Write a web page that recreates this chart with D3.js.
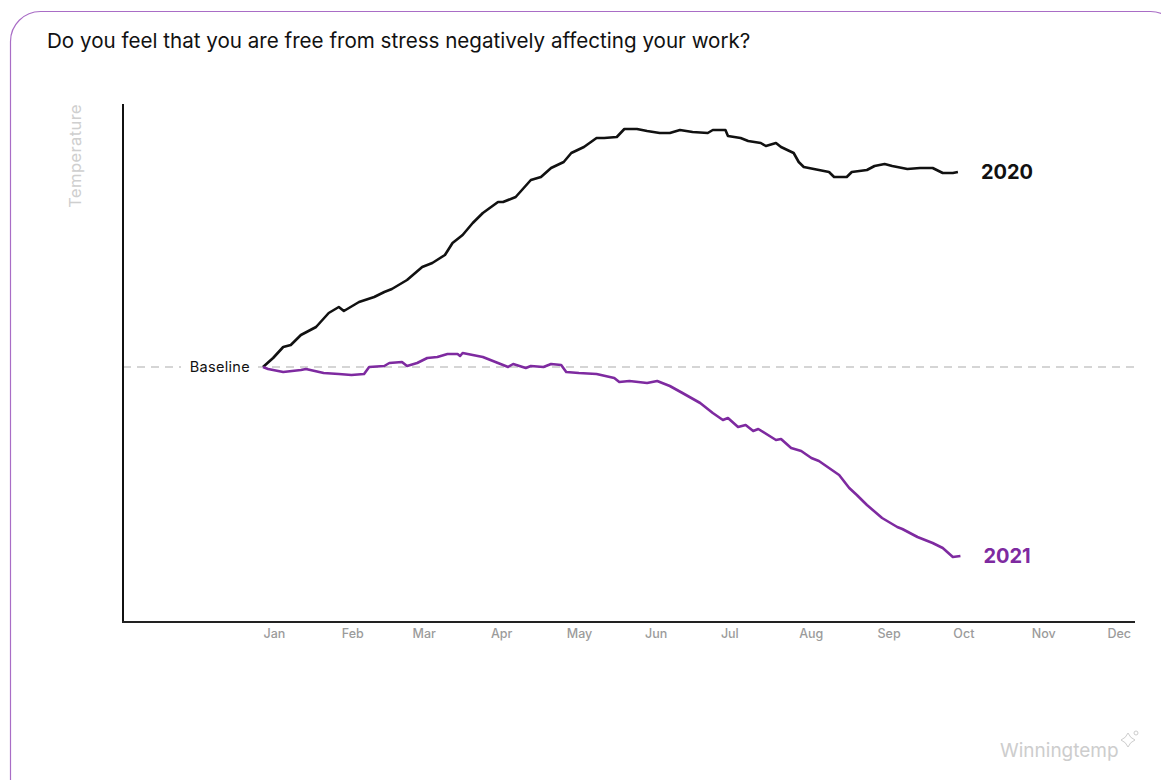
<!DOCTYPE html>
<html>
<head>
<meta charset="utf-8">
<style>
    body { margin: 0; background: #fff; }
    text { font-family: Inter, "Open Sans", sans-serif; }
</style>
</head>
<body>
<svg id="chart" width="1161" height="780"></svg>
<script src="https://cdn.jsdelivr.net/npm/d3@7"></script>
<script>
    // days since Jan 1, temperature relative to baseline
    let days2020 = [0, 4, 8, 11, 15, 21, 26, 30, 32, 38, 44, 48, 51, 57, 63, 67, 72, 75, 79, 83, 87, 93, 95, 100, 106, 110, 114, 119, 122, 127, 132, 135, 140, 143, 148, 152, 157, 161, 165, 170, 176, 178, 183, 184, 189, 192, 197, 199, 203, 205, 210, 212, 214, 216, 224, 226, 231, 233, 239, 242, 246, 249, 255, 260, 265, 269, 273, 275]
    let values2020 = [0, 0.18, 0.40, 0.44, 0.64, 0.80, 1.08, 1.20, 1.12, 1.30, 1.40, 1.50, 1.56, 1.74, 2.00, 2.08, 2.24, 2.48, 2.64, 2.88, 3.08, 3.30, 3.30, 3.40, 3.74, 3.80, 3.98, 4.10, 4.28, 4.40, 4.58, 4.58, 4.60, 4.76, 4.76, 4.72, 4.68, 4.68, 4.74, 4.70, 4.68, 4.74, 4.74, 4.62, 4.58, 4.52, 4.48, 4.42, 4.48, 4.40, 4.28, 4.10, 4.00, 3.98, 3.90, 3.80, 3.80, 3.90, 3.94, 4.02, 4.06, 4.02, 3.96, 3.98, 3.98, 3.88, 3.88, 3.90]

    let days2021 = [0, 2, 8, 15, 17, 24, 30, 35, 40, 42, 48, 50, 55, 57, 61, 65, 69, 73, 77, 78, 79, 87, 93, 97, 99, 104, 106, 111, 114, 118, 120, 125, 132, 139, 141, 145, 152, 156, 161, 166, 173, 178, 182, 184, 188, 191, 194, 196, 203, 205, 209, 213, 217, 220, 228, 232, 235, 239, 245, 251, 253, 259, 265, 269, 273, 276]
    let values2021 = [0, -0.04, -0.10, -0.06, -0.04, -0.12, -0.14, -0.16, -0.14, 0, 0.02, 0.08, 0.10, 0.02, 0.08, 0.18, 0.20, 0.26, 0.26, 0.22, 0.28, 0.20, 0.08, 0, 0.06, -0.02, 0.02, 0, 0.06, 0.04, -0.10, -0.12, -0.14, -0.22, -0.30, -0.28, -0.32, -0.28, -0.38, -0.52, -0.72, -0.92, -1.06, -1.02, -1.20, -1.16, -1.28, -1.24, -1.46, -1.44, -1.62, -1.68, -1.82, -1.88, -2.16, -2.42, -2.56, -2.76, -3.02, -3.20, -3.24, -3.40, -3.52, -3.62, -3.80, -3.78]

    let monthLabels = ["Jan", "Feb", "Mar", "Apr", "May", "Jun", "Jul", "Aug", "Sep", "Oct", "Nov", "Dec"]

    let purple = "#7e2aa0"
    let yearStart = new Date(2021, 0, 1)

    let svg = d3.select("#chart")

    // card
    svg.append("rect")
        .attr("x", 10.5).attr("y", 11.5)
        .attr("width", 1170).attr("height", 800)
        .attr("rx", 30)
        .attr("fill", "#fff")
        .attr("stroke", "#a96dc6")
        .attr("stroke-width", 1.2)

    svg.append("text")
        .attr("x", 47).attr("y", 48)
        .attr("font-size", 20.6)
        .attr("fill", "#111")
        .text("Do you feel that you are free from stress negatively affecting your work?")

    let x = d3.scaleTime()
        .domain([yearStart, new Date(2021, 11, 1)])
        .range([263, 1107])

    let y = d3.scaleLinear()
        .domain([-5.1, 5.26])
        .range([622, 104])

    let axisLeft = 123, axisRight = 1135

    // baseline
    svg.append("line")
        .attr("x1", axisLeft).attr("x2", 181)
        .attr("y1", y(0)).attr("y2", y(0))
        .attr("stroke", "#c8c8c8").attr("stroke-width", 1.5)
        .attr("stroke-dasharray", "8,6")
    svg.append("line")
        .attr("x1", 258).attr("x2", axisRight)
        .attr("y1", y(0)).attr("y2", y(0))
        .attr("stroke", "#c8c8c8").attr("stroke-width", 1.5)
        .attr("stroke-dasharray", "8,6")
    svg.append("text")
        .attr("x", 250).attr("y", y(0))
        .attr("dy", "0.35em")
        .attr("text-anchor", "end")
        .attr("font-size", 14.5)
        .attr("letter-spacing", 0.3)
        .attr("fill", "#111")
        .text("Baseline")

    // axes
    svg.append("line")
        .attr("x1", axisLeft).attr("x2", axisLeft)
        .attr("y1", 104).attr("y2", 623)
        .attr("stroke", "#111").attr("stroke-width", 2)
    svg.append("line")
        .attr("x1", axisLeft - 1).attr("x2", axisRight)
        .attr("y1", 622).attr("y2", 622)
        .attr("stroke", "#222").attr("stroke-width", 2)

    let xAxis = svg.append("g")
        .attr("transform", "translate(0,622)")
        .call(d3.axisBottom(x)
            .tickValues(d3.timeMonth.range(yearStart, new Date(2021, 11, 2)))
            .tickSize(0)
            .tickPadding(7)
            .tickFormat((d, i) => monthLabels[i]))
    xAxis.select(".domain").remove()
    xAxis.selectAll("text")
        .attr("text-anchor", "start")
        .attr("font-family", "Inter, sans-serif")
        .attr("font-size", 12.5)
        .attr("font-weight", 500)
        .attr("fill", "#9b9b9b")

    svg.append("text")
        .attr("transform", "translate(81,104) rotate(-90)")
        .attr("text-anchor", "end")
        .attr("font-size", 16.5)
        .attr("letter-spacing", 0.4)
        .attr("fill", "#cfcfcf")
        .text("Temperature")

    let line = d3.line()
        .x(d => x(d3.timeDay.offset(yearStart, d[0])))
        .y(d => y(d[1]))

    let series = [
        { name: "2020", days: days2020, values: values2020, color: "#111" },
        { name: "2021", days: days2021, values: values2021, color: purple }
    ]

    series.forEach(s => {
        let pts = s.days.map((d, i) => [d, s.values[i]])
        svg.append("path")
            .datum(pts)
            .attr("fill", "none")
            .attr("stroke", s.color)
            .attr("stroke-width", 2.6)
            .attr("stroke-linejoin", "round")
            .attr("d", line)
        let last = pts[pts.length - 1]
        svg.append("text")
            .attr("x", x(d3.timeDay.offset(yearStart, last[0])) + 23)
            .attr("y", y(last[1]))
            .attr("dy", "0.36em")
            .attr("font-size", 20)
            .attr("font-weight", 700)
            .attr("fill", s.color)
            .text(s.name)
    })

    // watermark
    svg.append("text")
        .attr("x", 1000).attr("y", 757)
        .attr("font-size", 19)
        .attr("fill", "#cdcdcd")
        .text("Winningtemp")
    let icon = svg.append("g")
        .attr("transform", "translate(1128,740)")
        .attr("fill", "none").attr("stroke", "#cdcdcd").attr("stroke-width", 1)
    icon.append("path").attr("d", "M0,-7 Q2,-2 7,0 Q2,2 0,7 Q-2,2 -7,0 Q-2,-2 0,-7Z")
    icon.append("circle").attr("cx", 8).attr("cy", -7).attr("r", 2)
</script>
</body>
</html>
